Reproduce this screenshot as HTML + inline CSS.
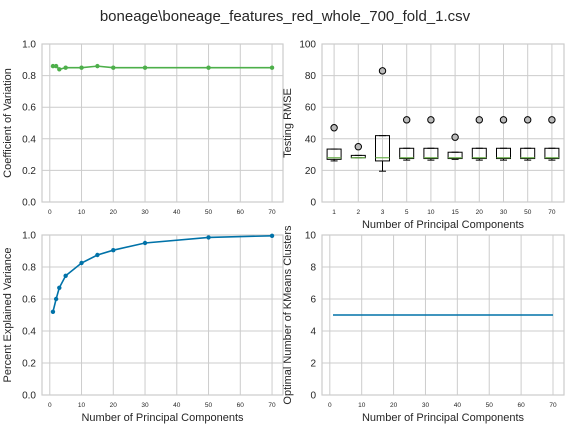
<!DOCTYPE html>
<html><head><meta charset="utf-8"><style>
body{margin:0;background:#fff;}
svg{display:block;font-family:"Liberation Sans",sans-serif;}
</style></head><body>
<svg id="c" width="571" height="428">
<text x="285" y="21" font-size="15" text-anchor="middle" fill="#262626">boneage\boneage_features_red_whole_700_fold_1.csv</text>
</svg>
<script>
const pcs=[1,2,3,5,10,15,20,30,50,70];
const cvVals=[0.86,0.86,0.84,0.85,0.85,0.86,0.85,0.85,0.85,0.85];
const pevVals=[0.52,0.60,0.67,0.745,0.825,0.875,0.905,0.95,0.985,0.995];
const kmVals=[5,5,5,5,5,5,5,5,5,5];
const boxLabels=["1","2","3","5","10","15","20","30","50","70"];
const boxLow=[26,28,19.5,26.5,26.5,27,26.5,26.5,26.5,26.5];
const boxQ1=[27,28,26,27.5,27.5,27.5,27.5,27.5,27.5,27.5];
const boxMed=[28,28,28,28,28,28,28,28,28,28];
const boxQ3=[33.5,29.5,42,34,34,31.5,34,34,34,34];
const boxHigh=[33.5,29.5,42,34,34,31.5,34,34,34,34];
const boxOut=[47,35,83,52,52,41,52,52,52,52];
const svg=document.getElementById('c');
const NS='http://www.w3.org/2000/svg';
function mk(tag,at,parent){const e=document.createElementNS(NS,tag);for(const k in at)e.setAttribute(k,at[k]);(parent||svg).appendChild(e);return e;}
function axes(name,L,R,T,B,xmin,xmax,ymin,ymax,xt,xtl,yt,ytl,ylabel,xlabel){
 const g=mk('g',{});
 
 
 const sx=v=>L+(v-xmin)/(xmax-xmin)*(R-L);
 const sy=v=>B-(v-ymin)/(ymax-ymin)*(B-T);
 xt.forEach((v,i)=>{mk('line',{x1:sx(v),x2:sx(v),y1:T,y2:B,stroke:'#cccccc','stroke-width':1},g);
  const t=mk('text',{x:sx(v),y:B+12,'font-size':6.5,'text-anchor':'middle',fill:'#262626'},g);t.textContent=xtl[i];
  
  });
 yt.forEach((v,i)=>{mk('line',{x1:L,x2:R,y1:sy(v),y2:sy(v),stroke:'#cccccc','stroke-width':1},g);
  const t=mk('text',{x:L-6,y:sy(v)+3.5,'font-size':10,'text-anchor':'end',fill:'#262626'},g);t.textContent=ytl[i];
  
  });
 mk('rect',{x:L,y:T,width:R-L,height:B-T,fill:'none',stroke:'#cccccc','stroke-width':1.2},g);
 const yl=mk('text',{x:0,y:0,'font-size':11,'text-anchor':'middle',fill:'#262626',transform:`translate(${L-31},${(T+B)/2}) rotate(-90)`},g);yl.textContent=ylabel;
 
 
 if(xlabel){const xl=mk('text',{x:(L+R)/2,y:B+26,'font-size':11,'text-anchor':'middle',fill:'#262626'},g);xl.textContent=xlabel;
 
 }
 return {g,sx,sy};
}
const xt=[0,10,20,30,40,50,60,70],xtl=xt.map(String);
const y1=[0,0.2,0.4,0.6,0.8,1.0],y1l=y1.map(v=>v.toFixed(1));
function line(a,xs,ys,color,name,marker){
 const p=mk('polyline',{points:xs.map((x,i)=>a.sx(x)+','+a.sy(ys[i])).join(' '),fill:'none',stroke:color,'stroke-width':1.6},a.g);
 
 
 if(marker)xs.forEach((x,i)=>{const c=mk('circle',{cx:a.sx(x),cy:a.sy(ys[i]),r:2.2,fill:color},a.g);
  
  });
}
const a1=axes('cv-chart',42,283,44,202,-2.45,73.45,0,1,xt,xtl,y1,y1l,'Coefficient of Variation','');
line(a1,pcs,cvVals,'#4daf4a','cv-line',true);
const a3=axes('pev-chart',42,283,235,395,-2.45,73.45,0,1,xt,xtl,y1,y1l,'Percent Explained Variance','Number of Principal Components');
line(a3,pcs,pevVals,'#0072a8','pev-line',true);
const y4=[0,2,4,6,8,10];
const a4=axes('kmeans-chart',322,564,235,395,-2.45,73.45,0,10,xt,xtl,y4,y4.map(String),'Optimal Number of KMeans Clusters','Number of Principal Components');
line(a4,pcs,kmVals,'#0072a8','kmeans-line',false);
const y2=[0,20,40,60,80,100];
const bi=boxLabels.map((_,i)=>i+1);
const a2=axes('rmse-boxplot',322,564,44,202,0.5,10.5,0,100,bi,boxLabels,y2,y2.map(String),'Testing RMSE','Number of Principal Components');
bi.forEach((x,i)=>{
 const cx=a2.sx(x),w=7;
 const g=mk('g',{},a2.g);
 
 
 mk('line',{x1:cx,x2:cx,y1:a2.sy(boxLow[i]),y2:a2.sy(boxQ1[i]),stroke:'#000','stroke-width':1},g);
 mk('line',{x1:cx,x2:cx,y1:a2.sy(boxQ3[i]),y2:a2.sy(boxHigh[i]),stroke:'#000','stroke-width':1},g);
 mk('line',{x1:cx-3.5,x2:cx+3.5,y1:a2.sy(boxLow[i]),y2:a2.sy(boxLow[i]),stroke:'#000','stroke-width':1},g);
 mk('line',{x1:cx-3.5,x2:cx+3.5,y1:a2.sy(boxHigh[i]),y2:a2.sy(boxHigh[i]),stroke:'#000','stroke-width':1},g);
 mk('rect',{x:cx-w,y:a2.sy(boxQ3[i]),width:2*w,height:a2.sy(boxQ1[i])-a2.sy(boxQ3[i]),fill:'none',stroke:'#000','stroke-width':1},g);
 mk('line',{x1:cx-w,x2:cx+w,y1:a2.sy(boxMed[i]),y2:a2.sy(boxMed[i]),stroke:'#6ab04c','stroke-width':1.2},g);
 mk('circle',{cx:cx,cy:a2.sy(boxOut[i]),r:3.2,fill:'#bbbbbb',stroke:'#000','stroke-width':1},g);
});
</script>
</body></html>
